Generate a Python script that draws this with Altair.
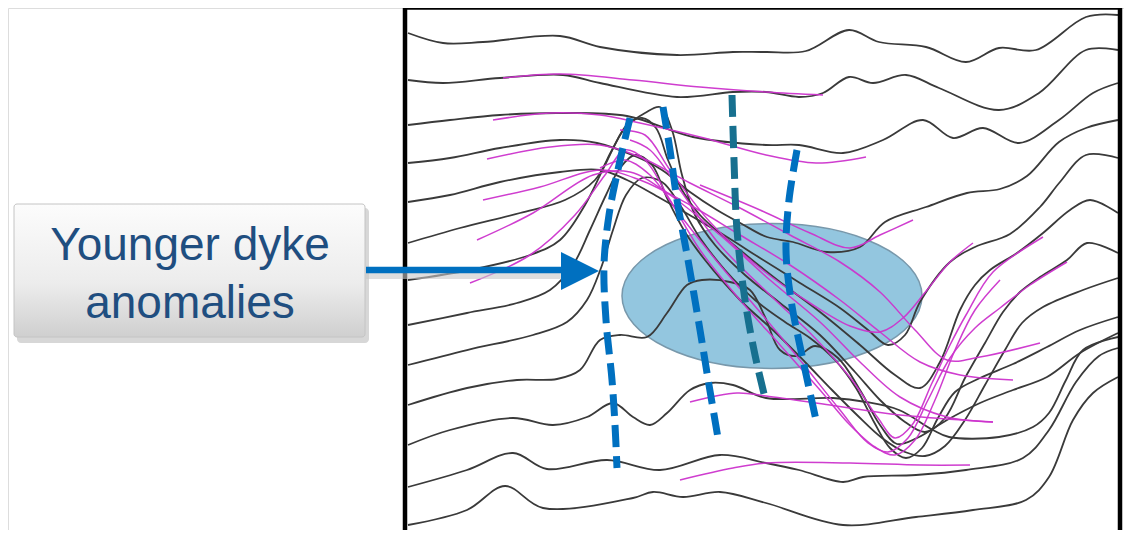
import altair as alt
import pandas as pd

# ---- black magnetic profiles (x, y in picture units) ----
BLACK_1 = [(408,33),(443,43),(483,42),(560,36),(600,47),(677,55),(733,52),(766,52),(806,51),(849,30),(879,42),(926,47),(966,62),(999,48),(1036,50),(1086,17),(1118,15)]
BLACK_2 = [(408,80),(443,83),(500,78),(563,75),(600,83),(677,97),(733,92),(766,92),(799,97),(823,93),(849,77),(873,83),(906,75),(939,88),(999,110),(1039,93),(1086,50),(1118,50)]
BLACK_3 = [(408,125),(450,120),(500,115),(560,113),(627,116),(693,137),(766,145),(799,145),(843,153),(883,140),(923,120),(953,138),(983,128),(1019,143),(1059,120),(1093,93),(1118,83)]
BLACK_4 = [(408,163),(450,158),(500,148),(560,140),(597,143),(637,157),(662,170),(690,192),(717,210),(742,224),(767,237),(793,242),(827,252),(860,247),(885,222),(926,207),(967,193),(1000,189),(1027,176),(1059,142),(1086,128),(1118,120)]
BLACK_5 = [(408,202),(450,195),(500,182),(560,172),(600,170),(627,180),(660,198),(693,217),(727,237),(760,258),(800,283),(840,308),(868,330),(888,345),(905,335),(920,302),(950,262),(975,247),(1010,234),(1040,207),(1060,182),(1086,155),(1118,158)]
BLACK_6 = [(408,243),(460,228),(520,213),(565,200),(595,180),(612,150),(627,125),(642,118),(656,128),(668,160),(682,190),(700,215),(740,250),(780,282),(820,312),(860,345),(895,375),(920,388),(940,362),(960,310),(975,285),(990,270),(1017,253),(1043,233),(1070,210),(1090,200),(1118,213)]
BLACK_7 = [(408,280),(470,270),(530,255),(560,240),(585,205),(605,165),(625,128),(645,113),(660,107),(672,130),(682,175),(695,215),(715,245),(745,275),(780,303),(820,335),(855,372),(880,400),(905,422),(925,432),(945,418),(965,378),(985,343),(1003,312),(1020,292),(1040,277),(1067,260),(1087,243),(1118,253)]
BLACK_8 = [(408,325),(467,313),(517,303),(550,290),(573,265),(590,230),(606,195),(620,168),(635,155),(652,165),(667,198),(685,232),(705,260),(740,300),(775,332),(805,362),(832,390),(857,415),(882,438),(905,452),(925,456),(945,446),(965,420),(985,385),(1005,350),(1022,323),(1043,307),(1083,290),(1118,278)]
BLACK_9 = [(408,365),(467,350),(533,335),(567,322),(587,300),(601,268),(613,230),(626,195),(642,178),(662,182),(680,205),(700,238),(725,270),(755,300),(785,322),(810,338),(835,360),(856,388),(874,422),(890,448),(906,458),(922,448),(938,418),(955,392),(980,378),(1013,364),(1047,347),(1080,330),(1118,317)]
BLACK_10 = [(408,405),(467,388),(517,380),(557,379),(580,370),(600,340),(620,335),(647,337),(667,313),(687,285),(702,280),(730,282),(750,290),(765,317),(780,350),(797,356),(815,346),(838,358),(860,390),(880,425),(897,444),(917,438),(947,420),(980,403),(1013,390),(1047,377),(1080,353),(1118,333)]
BLACK_11 = [(408,445),(450,430),(513,418),(553,425),(587,417),(613,403),(633,417),(650,425),(667,413),(690,390),(710,383),(733,385),(766,398),(833,398),(866,402),(899,410),(933,430),(949,437),(999,437),(1033,427),(1049,413),(1066,380),(1083,350),(1118,337)]
BLACK_12 = [(408,487),(467,470),(513,453),(547,469),(607,460),(660,470),(720,455),(766,463),(799,470),(843,482),(863,477),(916,475),(966,470),(1023,458),(1049,430),(1076,382),(1099,356),(1118,348)]
BLACK_13 = [(408,525),(467,510),(505,486),(543,508),(633,498),(653,492),(683,497),(720,492),(766,503),(843,525),(916,517),(973,510),(1026,500),(1049,477),(1073,420),(1093,393),(1118,377)]

# ---- magenta interpreted profiles ----
MAGENTA_1 = [(503,78),(560,74),(633,80),(700,87),(766,92),(823,95)]
MAGENTA_2 = [(493,120),(550,113),(600,115),(640,123),(700,137),(766,155),(816,163),(866,157)]
MAGENTA_3 = [(487,159),(550,147),(600,145),(640,157),(690,183),(740,208),(790,235),(840,262),(880,292),(915,330),(947,360),(980,357),(1040,343)]
MAGENTA_4 = [(483,200),(540,187),(600,170),(640,180),(690,205),(740,235),(790,265),(840,300),(880,332),(920,362),(960,375),(1013,380)]
MAGENTA_5 = [(477,240),(533,213),(593,175),(630,172),(670,195),(720,235),(770,280),(820,322),(860,362),(900,397),(947,417),(993,422)]
MAGENTA_6 = [(470,283),(530,255),(575,215),(605,175),(625,150),(645,160),(670,200),(700,250),(740,300),(780,345),(820,390),(850,425),(875,447),(895,455),(915,440),(935,400),(955,350),(975,310),(1000,280)]
MAGENTA_7 = [(600,168),(625,160),(650,175),(680,215),(720,265),(760,312),(800,360),(840,410),(868,443),(888,452),(908,438),(928,400),(950,358),(975,328),(1000,308),(1030,285),(1067,262)]
MAGENTA_8 = [(630,140),(650,150),(680,190),(720,245),(770,295),(815,338),(852,380),(878,418),(895,438),(912,425),(932,383),(950,345),(966,315),(993,272),(1043,237)]
MAGENTA_9 = [(620,130),(645,135),(670,170),(710,222),(760,268),(810,303),(850,326),(880,332),(903,318),(927,290),(950,262),(973,243)]
MAGENTA_10 = [(700,185),(760,210),(810,233),(850,248),(880,235),(913,220)]
MAGENTA_11 = [(690,402),(737,393),(766,396),(830,405),(900,415),(993,422)]
MAGENTA_12 = [(680,480),(733,468),(766,463),(850,463),(920,465),(970,465)]

# ---- dashed dyke traces ----
DYKE_BLUE_1 = [(630,118),(619,165),(609,215),(604,265),(606,320),(612,380),(615,425),(617,468)]
DYKE_BLUE_2 = [(663,107),(670,150),(677,200),(688,260),(700,330),(709,385),(718,438)]
DYKE_BLUE_3 = [(797,150),(789,200),(786,250),(791,300),(803,360),(816,420)]
DYKE_TEAL_1 = [(732,95),(734,160),(737,230),(745,300),(755,355),(766,402)]

# ---- annotation ----
ELLIPSE_X = [772]
ELLIPSE_Y = [296]
LABEL_TEXT = ["Younger dyke", "anomalies"]
LABEL_X = [190, 190]
LABEL_Y = [260, 318]
BOX_X = [14, 365]
BOX_Y = [204, 337]
ARROW_X = [366, 566]
ARROW_Y = [270, 270]
TIP_X = [580]
TIP_Y = [271]
FRAME_X1 = [405, 403, 1120]
FRAME_X2 = [405, 1122, 1120]
FRAME_Y1 = [6, 7.5, 6]
FRAME_Y2 = [540, 7.5, 540]


def to_frame(groups, prefix):
    rows = []
    for k, pts in enumerate(groups):
        for i, (x, y) in enumerate(pts):
            rows.append({"line": f"{prefix}{k}", "i": i, "x": x, "y": y})
    return pd.DataFrame(rows)


black_df = to_frame([BLACK_1, BLACK_2, BLACK_3, BLACK_4, BLACK_5, BLACK_6, BLACK_7,
                     BLACK_8, BLACK_9, BLACK_10, BLACK_11, BLACK_12, BLACK_13], "b")
mag_df = to_frame([MAGENTA_1, MAGENTA_2, MAGENTA_3, MAGENTA_4, MAGENTA_5, MAGENTA_6,
                   MAGENTA_7, MAGENTA_8, MAGENTA_9, MAGENTA_10, MAGENTA_11, MAGENTA_12], "m")
blue_df = to_frame([DYKE_BLUE_1, DYKE_BLUE_2, DYKE_BLUE_3], "d")
teal_df = to_frame([DYKE_TEAL_1], "t")

xs = alt.Scale(domain=[8, 1124], nice=False, zero=False)
ys = alt.Scale(domain=[530, 8], nice=False, zero=False)
X = alt.X("x:Q", scale=xs, axis=None)
Y = alt.Y("y:Q", scale=ys, axis=None)

black = alt.Chart(black_df).mark_line(
    interpolate="catmull-rom", color="#3a3a3a", strokeWidth=1.8
).encode(x=X, y=Y, detail="line:N", order="i:Q")

magenta = alt.Chart(mag_df).mark_line(
    interpolate="catmull-rom", color="#cc33cc", strokeWidth=1.5, opacity=0.95
).encode(x=X, y=Y, detail="line:N", order="i:Q")

ELL_PATH = ("M -1 0 C -1 -0.267 -0.552 -0.483 0 -0.483 C 0.552 -0.483 1 -0.267 1 0 "
            "C 1 0.267 0.552 0.483 0 0.483 C -0.552 0.483 -1 0.267 -1 0 Z")
ellipse = alt.Chart(pd.DataFrame({"x": ELLIPSE_X, "y": ELLIPSE_Y})).mark_point(
    shape=ELL_PATH, size=90000, filled=True, fill="#93c6df", stroke="#7898ab",
    strokeWidth=1.5, opacity=1
).encode(x=X, y=Y)

blue = alt.Chart(blue_df).mark_line(
    interpolate="catmull-rom", color="#0070c0", strokeWidth=7, strokeDash=[22, 9], strokeCap="butt"
).encode(x=X, y=Y, detail="line:N", order="i:Q")

teal = alt.Chart(teal_df).mark_line(
    interpolate="catmull-rom", color="#17708f", strokeWidth=7, strokeDash=[22, 9], strokeCap="butt"
).encode(x=X, y=Y, detail="line:N", order="i:Q")

box_df = pd.DataFrame({"x": [BOX_X[0]], "x2": [BOX_X[1]], "y": [BOX_Y[0]], "y2": [BOX_Y[1]]})
shadow_df = pd.DataFrame({"x": [BOX_X[0] + 3], "x2": [BOX_X[1] + 4], "y": [BOX_Y[0] + 4], "y2": [BOX_Y[1] + 6]})
shadow = alt.Chart(shadow_df).mark_rect(fill="#8c8c8c", opacity=0.35, cornerRadius=4).encode(
    x=X, x2="x2:Q", y=Y, y2="y2:Q")
grad = alt.Gradient(
    gradient="linear",
    stops=[alt.GradientStop(color="#fcfcfc", offset=0),
           alt.GradientStop(color="#ececec", offset=0.6),
           alt.GradientStop(color="#cfcfcf", offset=1)],
    x1=0, x2=0, y1=0, y2=1)
box = alt.Chart(box_df).mark_rect(fill=grad, stroke="#c4c4c4", strokeWidth=1, cornerRadius=3).encode(
    x=X, x2="x2:Q", y=Y, y2="y2:Q")

label = alt.Chart(pd.DataFrame({"x": LABEL_X, "y": LABEL_Y, "t": LABEL_TEXT})).mark_text(
    font="Liberation Sans", fontSize=46, color="#1f4e80", align="center", baseline="alphabetic"
).encode(x=X, y=Y, text="t:N")

arrow_df = pd.DataFrame({"x": [ARROW_X[0]], "x2": [ARROW_X[1]], "y": [ARROW_Y[0]], "y2": [ARROW_Y[1]]})
arrow_shadow_df = pd.DataFrame({"x": [ARROW_X[0]], "x2": [ARROW_X[1]], "y": [ARROW_Y[0] + 6], "y2": [ARROW_Y[1] + 6]})
arrow_shadow = alt.Chart(arrow_shadow_df).mark_rule(color="#c8c8c8", strokeWidth=6, opacity=0.6).encode(
    x=X, x2="x2:Q", y=Y, y2="y2:Q")
arrow = alt.Chart(arrow_df).mark_rule(color="#0070c0", strokeWidth=6.5).encode(
    x=X, x2="x2:Q", y=Y, y2="y2:Q")
tip = alt.Chart(pd.DataFrame({"x": TIP_X, "y": TIP_Y})).mark_point(
    shape="M 1 0 L -1 -1 L -1 1 Z", size=1444, filled=True, fill="#0070c0",
    strokeWidth=0, opacity=1
).encode(x=X, y=Y)

frame_df = pd.DataFrame({"x": FRAME_X1, "x2": FRAME_X2, "y": FRAME_Y1, "y2": FRAME_Y2})
frame = alt.Chart(frame_df).mark_rule(color="#000000", strokeWidth=4.5, clip=False).encode(
    x=X, x2="x2:Q", y=Y, y2="y2:Q")

chart = alt.layer(
    ellipse, black, magenta, blue, teal, frame, shadow, box, label, arrow_shadow, arrow, tip
).properties(
    width=1116, height=522, padding=0, autosize=alt.AutoSizeParams(type="none")
).configure_view(strokeWidth=0, stroke="transparent").configure(background="white")

chart.save("out.html", embed_options={"renderer": "svg", "actions": False})
